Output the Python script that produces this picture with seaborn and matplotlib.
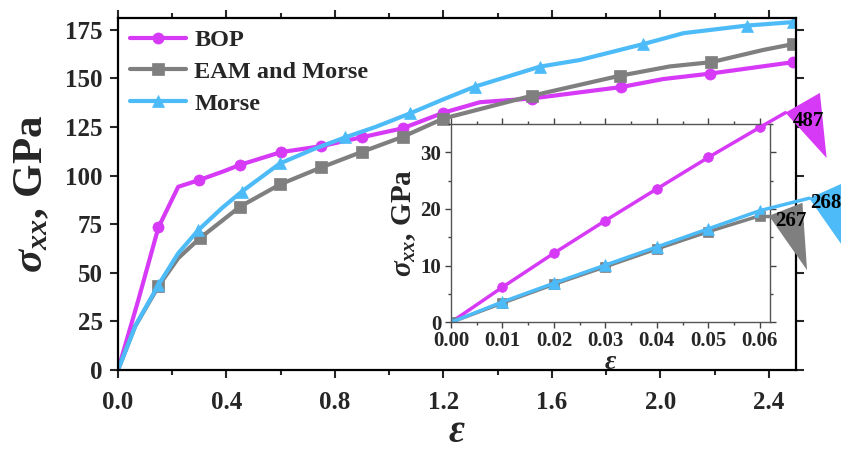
import numpy as np
import pandas as pd
import matplotlib
matplotlib.use("Agg")
import matplotlib.pyplot as plt
import seaborn as sns
from matplotlib.patches import Polygon
from matplotlib.ticker import MultipleLocator

# ---------------- data ----------------
bop_x = [0, 0.075, 0.149, 0.222, 0.30, 0.394, 0.45, 0.60, 0.75, 0.90, 1.05, 1.20, 1.335, 1.525, 1.856, 2.01, 2.183, 2.49]
bop_y = [0, 36, 73.3, 94.2, 97.7, 102.4, 105.5, 112, 115.1, 119.7, 124.3, 132.3, 137.7, 139.6, 145.5, 149.6, 152.4, 158.3]
bop_marks = [2, 4, 6, 7, 8, 9, 10, 11, 13, 14, 16, 17]

eam_x = [0, 0.063, 0.149, 0.222, 0.302, 0.45, 0.597, 0.75, 0.90, 1.05, 1.20, 1.525, 1.85, 2.035, 2.188, 2.38, 2.49]
eam_y = [0, 22.4, 43, 57.5, 67.8, 84, 95.4, 104.2, 112.2, 119.9, 129.3, 141, 151.3, 156.1, 158.3, 164.6, 167.6]
eam_marks = [2, 4, 5, 6, 7, 8, 9, 10, 11, 12, 14, 16]

mor_x = [0, 0.065, 0.149, 0.222, 0.296, 0.382, 0.456, 0.597, 0.72, 0.837, 0.95, 1.076, 1.2, 1.316, 1.556, 1.703, 1.937, 2.085, 2.318, 2.49]
mor_y = [0, 23, 43.7, 60, 71.9, 83.1, 91.7, 106.2, 113.5, 119.6, 125, 131.9, 139.2, 145.7, 156, 159.4, 167.6, 173.2, 177.1, 178.9]
mor_marks = [2, 4, 6, 7, 9, 11, 13, 14, 16, 18, 19]

ins_x = [0, 0.01, 0.02, 0.03, 0.04, 0.05, 0.06]
ins_bop = [0, 6.2, 12.2, 17.95, 23.55, 29.1, 34.4]
ins_eam = [0, 3.4, 6.7, 9.8, 12.95, 16.0, 18.8]
ins_mor = [0, 3.6, 6.9, 10.1, 13.3, 16.5, 19.7]

labels = ["BOP", "EAM and Morse", "Morse"]
moduli = ["487", "267", "268"]
colors = ["#D63AF6", "#7F7F7F", "#4DBBF7"]
markers = ["o", "s", "^"]

main_xticks = [0.0, 0.4, 0.8, 1.2, 1.6, 2.0, 2.4]
main_yticks = [0, 25, 50, 75, 100, 125, 150, 175]
ins_xticks = [0.00, 0.01, 0.02, 0.03, 0.04, 0.05, 0.06]
ins_yticks = [0, 10, 20, 30]

# ---------------- style ----------------
sns.set_style("ticks")
plt.rcParams["font.family"] = ["Liberation Serif", "DejaVu Serif"]
plt.rcParams["font.weight"] = "bold"
plt.rcParams["axes.labelweight"] = "bold"
plt.rcParams["mathtext.fontset"] = "custom"
plt.rcParams["mathtext.rm"] = "Liberation Serif:bold"
plt.rcParams["mathtext.it"] = "Liberation Serif:italic:bold"
plt.rcParams["mathtext.bf"] = "Liberation Serif:bold"

fig = plt.figure(figsize=(8.41, 4.5), dpi=100)
ax = fig.add_axes([0.1403, 0.1778, 0.8062, 0.7822])

series = [(bop_x, bop_y, bop_marks), (eam_x, eam_y, eam_marks), (mor_x, mor_y, mor_marks)]
for (xs, ys, mk), lab, c, m in zip(series, labels, colors, markers):
    df = pd.DataFrame({"eps": xs, "sig": ys})
    sns.lineplot(data=df, x="eps", y="sig", ax=ax, sort=False, estimator=None,
                 color=c, lw=3, marker=m, markevery=mk, ms=8 if m != "^" else 9,
                 mec=c, mew=0.5, label=lab, legend=False)

ax.set_xlim(0, 2.5)
ax.set_ylim(0, 181)
ax.set_xticks(main_xticks)
ax.set_xticklabels([f"{v:.1f}" for v in main_xticks])
ax.set_yticks(main_yticks)
ax.xaxis.set_minor_locator(MultipleLocator(0.2))
ax.tick_params(which="both", direction="out", top=True, right=True,
               labeltop=False, labelright=False, width=1.5, labelsize=18)
ax.tick_params(axis="x", pad=9)
ax.tick_params(axis="y", pad=5)
ax.tick_params(which="major", length=6)
ax.tick_params(which="minor", length=3.5)
for s in ax.spines.values():
    s.set_linewidth(1.6)
    s.set_color("black")
ax.set_xlabel(r"$\varepsilon$", fontsize=28, labelpad=0, fontweight="bold")
ax.set_ylabel(r"$\sigma_{xx}$, GPa", fontsize=31, labelpad=10, fontweight="bold")

leg = ax.legend(loc="upper left", frameon=False, fontsize=17.5, handlelength=2.3,
                labelspacing=0.4, borderaxespad=0.2, handletextpad=0.35,
                bbox_to_anchor=(-0.004, 1.01))

# ---------------- inset ----------------
axi = fig.add_axes([0.5363, 0.2838, 0.3793, 0.4406])
axi.set_facecolor("white")
ins_series = [ins_bop, ins_eam, ins_mor]
for ys, lab, c, m in zip(ins_series, labels, colors, markers):
    df = pd.DataFrame({"eps": ins_x, "sig": ys})
    sns.lineplot(data=df, x="eps", y="sig", ax=axi, sort=False, estimator=None,
                 color=c, lw=2.5, marker=m, ms=7 if m != "^" else 8,
                 mec=c, mew=0.5, legend=False)

axi.set_xlim(0, 0.062)
axi.set_ylim(0, 35)
axi.set_xticks(ins_xticks)
axi.set_xticklabels([f"{v:.2f}" for v in ins_xticks])
axi.set_yticks(ins_yticks)
axi.xaxis.set_minor_locator(MultipleLocator(0.005))
axi.yaxis.set_minor_locator(MultipleLocator(5))
axi.tick_params(which="both", direction="out", top=True, right=True,
                labeltop=False, labelright=False, width=1.0, labelsize=15, pad=2.5,
                color="#444444")
axi.tick_params(axis="y", pad=3)
axi.tick_params(which="major", length=4)
axi.tick_params(which="minor", length=2.5)
for s in axi.spines.values():
    s.set_linewidth(1.0)
    s.set_color("#555555")
axi.set_xlabel(r"$\varepsilon$", fontsize=20, labelpad=-1, fontweight="bold")
axi.set_ylabel(r"$\sigma_{xx}$, GPa", fontsize=21, labelpad=2, fontweight="bold")

# ---------------- modulus flags (annotations) ----------------
flag_line_end = [(0.0650, 37.0), (0.0618, 18.8), (0.0696, 21.9)]
flag_tris = [
    [(0.0650, 37.0), (0.0717, 40.5), (0.0730, 29.0)],
    [(0.0618, 18.8), (0.0683, 21.1), (0.0692, 9.2)],
    [(0.0696, 21.9), (0.0765, 24.7), (0.0780, 11.0)],
]
flag_text = [(0.0694, 35.6), (0.0660, 17.9), (0.0728, 21.0)]
order = [1, 2, 0]
for i in order:
    last = (ins_x[-1], ins_series[i][-1])
    tri = Polygon(flag_tris[i], closed=True, facecolor=colors[i], edgecolor="none",
                  clip_on=False, zorder=5)
    axi.add_patch(tri)
    axi.plot([last[0], flag_line_end[i][0]], [last[1], flag_line_end[i][1]],
             color=colors[i], lw=2.5, clip_on=False, zorder=6)
    axi.text(flag_text[i][0], flag_text[i][1], moduli[i], fontsize=15,
             fontweight="bold", ha="center", va="center", color="black",
             clip_on=False, zorder=7)

fig.savefig("out.png", dpi=100)
